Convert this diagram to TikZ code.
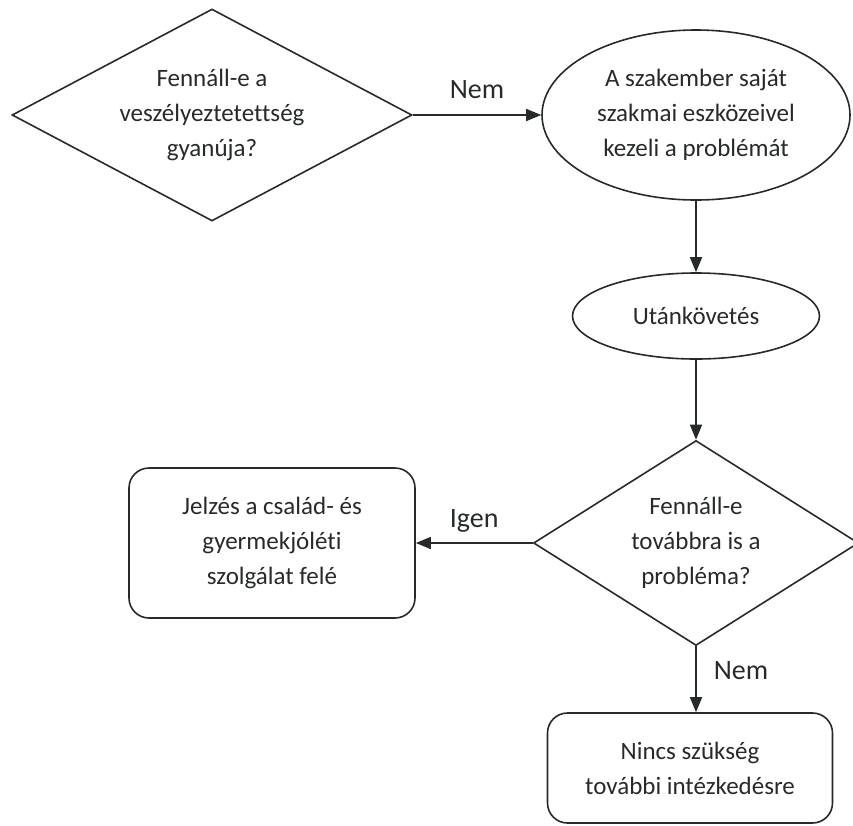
\documentclass[tikz,border=0pt]{standalone}
\usepackage{fontspec}
\setmainfont{Carlito}[Ligatures=NoCommon]
\usetikzlibrary{shapes.geometric,arrows.meta}
\definecolor{ink}{HTML}{262B28}
\newcommand{\boxfont}{\fontsize{25}{35}\selectfont}
\newcommand{\lblfont}{\fontsize{28}{32}\selectfont}
\begin{document}
\begin{tikzpicture}[x=1pt, y=-1pt, line width=1.6pt, every node/.style={text=ink, align=center, inner sep=0pt, font=\boxfont}, decision/.style={diamond, draw=ink}, oval/.style={ellipse, draw=ink}, outcome/.style={rectangle, rounded corners=20pt, draw=ink}, flow/.style={draw=ink, -{Triangle[length=15pt,width=12pt]}}, lbl/.style={font=\lblfont}]
		\useasboundingbox (0,0) rectangle (853,825);
		\node[decision, aspect=1.89, minimum width=400pt, minimum height=212pt](fennall) at (212,115){Fennáll-e a\\veszélyeztetettség\\gyanúja?};
		\node[oval, minimum width=308pt, minimum height=170pt](kezel) at (696,115){A szakember saját\\szakmai eszközeivel\\kezeli a problémát};
		\node[oval, minimum width=247pt, minimum height=86pt](utan) at (696,316){Utánkövetés};
		\node[decision, aspect=1.59, minimum width=325pt, minimum height=205pt](tovabb) at (696,543){Fennáll-e\\továbbra is a\\probléma?};
		\node[outcome, minimum width=286pt, minimum height=150pt](jelzes) at (272,543){Jelzés a család- és\\gyermekjóléti\\szolgálat felé};
		\node[outcome, minimum width=285pt, minimum height=110pt](nincs) at (690,768){Nincs szükség\\további intézkedésre};
		\draw[flow] (fennall) -- node[lbl, anchor=base, yshift=17pt]{Nem} (kezel);
		\draw[flow] (kezel) -- (utan);
		\draw[flow] (utan) -- (tovabb);
		\draw[flow] (tovabb) -- node[lbl, anchor=base, yshift=16pt]{Igen} (jelzes);
		\draw[flow] (tovabb.south) -- node[lbl, anchor=base west, xshift=17pt]{Nem} (tovabb.south |- nincs.north);
	\end{tikzpicture}
\end{document}
